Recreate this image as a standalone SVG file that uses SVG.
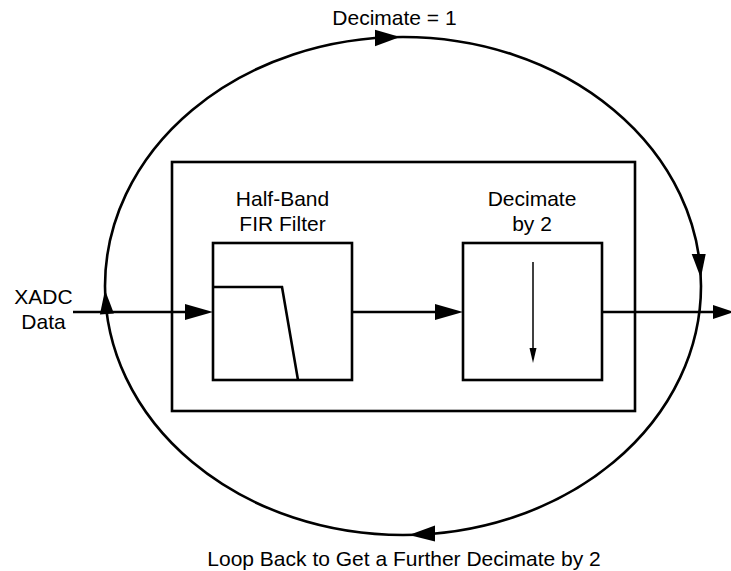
<svg xmlns="http://www.w3.org/2000/svg" width="731" height="571" viewBox="0 0 731 571">
<style>
.ln{fill:none;stroke:#000;stroke-width:2.6}
.hd{fill:#000;stroke:none}
.t{font-family:"Liberation Sans",Arial,sans-serif;font-size:21px;fill:#000;text-anchor:middle}
</style>
<rect x="0" y="0" width="731" height="571" fill="#fff"/>
<g id="loop">
<ellipse class="ln" cx="403" cy="286" rx="298" ry="249" stroke-width="3"/>
<polygon class="hd" points="400,37 375,29.8 375,46.2"/>
<polygon class="hd" points="105,290 113.9,313.4 99.9,314.6"/>
<polygon class="hd" points="700.8,278 691.7,254 705.7,254"/>
<polygon class="hd" points="409,535 435,525.6 435,541.6"/>
<text class="t" x="394.5" y="25">Decimate = 1</text>
<text class="t" x="404" y="566">Loop Back to Get a Further Decimate by 2</text>
</g>
<g id="container">
<rect class="ln" x="172" y="162" width="463" height="249"/>
</g>
<g id="input">
<text class="t" x="43.5" y="304">XADC</text>
<text class="t" x="43.5" y="329">Data</text>
</g>
<g id="filter">
<text class="t" x="282.5" y="205.5">Half-Band</text>
<text class="t" x="282.5" y="231">FIR Filter</text>
<rect class="ln" x="213" y="243" width="139" height="137" stroke-width="2.8"/>
<polyline class="ln" points="213,287 282,287 298,380" stroke-width="2.8"/>
</g>
<g id="decimator">
<text class="t" x="532" y="205.5">Decimate</text>
<text class="t" x="532" y="231">by 2</text>
<rect class="ln" x="463" y="243" width="139" height="137" stroke-width="2.8"/>
<line x1="533" y1="262" x2="533" y2="350" stroke="#000" stroke-width="1.5"/>
<polygon class="hd" points="533,363 529.5,348 536.5,348"/>
</g>
<g id="connectors">
<line class="ln" x1="73" y1="312" x2="190" y2="312"/>
<polygon class="hd" points="213,312 185,304 185,320"/>
<line class="ln" x1="352" y1="312" x2="440" y2="312"/>
<polygon class="hd" points="463,312 435,304 435,320"/>
<line class="ln" x1="602" y1="312" x2="716" y2="312"/>
<polygon class="hd" points="734,312 713,305 713,319"/>
</g>
</svg>
